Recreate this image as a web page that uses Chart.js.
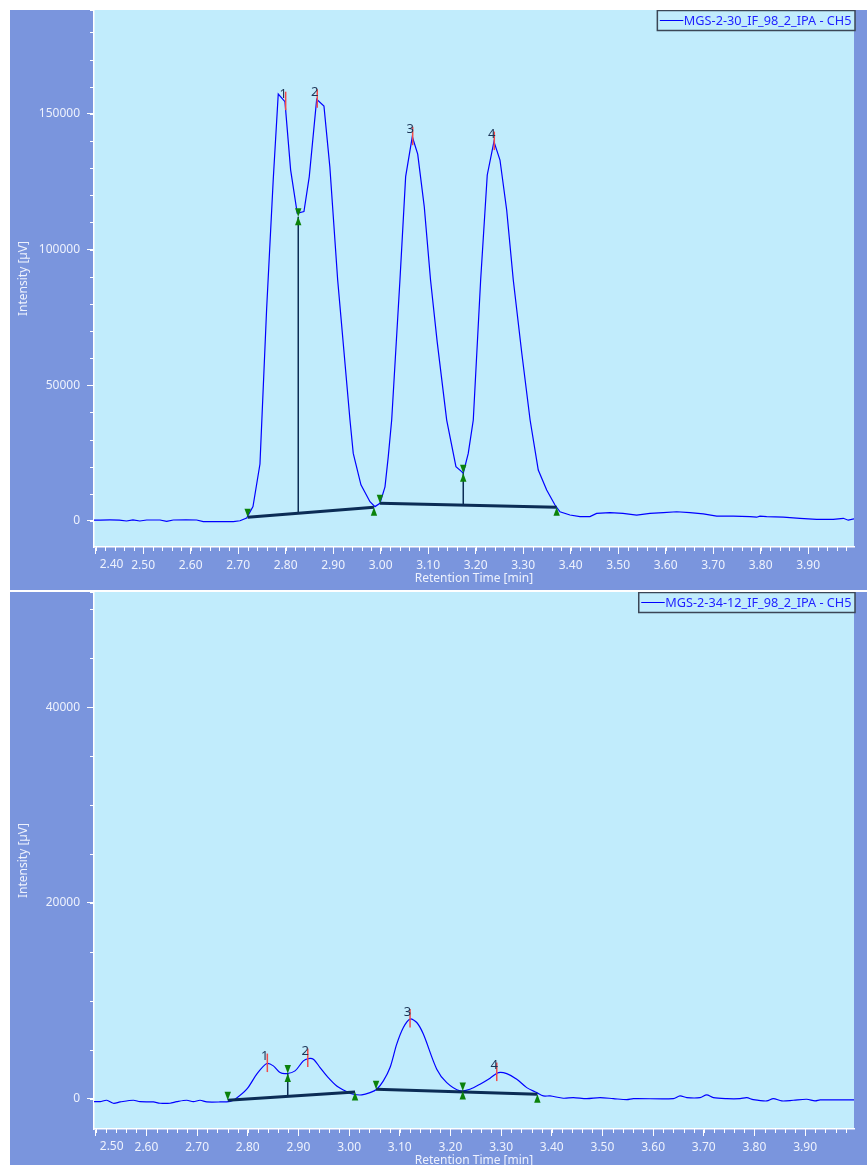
<!DOCTYPE html>
<html>
<head>
<meta charset="utf-8">
<script src="https://cdn.jsdelivr.net/npm/chart.js@4.4.1/dist/chart.umd.min.js"></script>
<style>
  html, body { margin: 0; padding: 0; background: #fff; overflow: hidden; }
  .panel { position: absolute; left: 10px; width: 857px; height: 580px; background: #7a95dd; }
  #panelTop { top: 10px; }
  #panelBottom { top: 592px; }
</style>
</head>
<body>
<div class="panel" id="panelTop"><canvas id="chartTop"></canvas></div>
<div class="panel" id="panelBottom"><canvas id="chartBottom"></canvas></div>
<script>
// ---- top run: MGS-2-30 ----
const topName = 'MGS-2-30_IF_98_2_IPA - CH5';
const topTimes = [2.3965, 2.41, 2.43, 2.45, 2.465, 2.4785, 2.493, 2.5074, 2.5354, 2.5495, 2.5634, 2.59,
  2.6126, 2.6265, 2.65, 2.6897, 2.7038, 2.7179, 2.7312, 2.7459, 2.7599, 2.7739, 2.7844, 2.7985,
  2.8105, 2.8244, 2.8385, 2.8497, 2.8653, 2.8806, 2.893, 2.9095, 2.9354, 2.9423, 2.9585, 2.9775,
  2.988, 2.9985, 3.0091, 3.016, 3.0232, 3.0406, 3.0526, 3.0666, 3.078, 3.0918, 3.105, 3.119,
  3.139, 3.1585, 3.1705, 3.1739, 3.1844, 3.195, 3.2105, 3.2244, 3.2385, 3.2512, 3.2653, 3.2792,
  3.297, 3.3146, 3.3318, 3.3495, 3.367, 3.3775, 3.3985, 3.4196, 3.4406, 3.4547, 3.4827, 3.5101,
  3.5389, 3.567, 3.595, 3.6232, 3.6512, 3.6792, 3.7074, 3.7423, 3.7775, 3.7915, 3.7985, 3.8126,
  3.8476, 3.8827, 3.9179, 3.9528, 3.974, 3.9844, 3.9965];
const topSignal = [300, 350, 380, 350, 0, 380, 0, 370, 370, -150, 370, 380,
  370, -200, -200, -200, 100, 1100, 5300, 21000, 78000, 126000, 157300, 154500,
  129300, 113400, 114000, 126900, 155400, 152900, 130500, 88800, 37200, 24900, 13300, 7100,
  5300, 6500, 12600, 23700, 37200, 88800, 126900, 141600, 135200, 115800, 88800, 66000,
  37200, 20000, 18200, 17600, 24900, 37200, 88800, 127500, 139800, 133000, 114600, 88800,
  62000, 37200, 18800, 11400, 5900, 3400, 2200, 1600, 1600, 2800, 3100, 2800,
  2200, 2800, 3100, 3400, 3100, 2600, 1800, 1800, 1600, 1400, 1800, 1600,
  1400, 1000, 600, 600, 1000, 300, 800];
const topXTicks = [2.40, 2.50, 2.60, 2.70, 2.80, 2.90, 3.00, 3.10, 3.20, 3.30, 3.40, 3.50, 3.60, 3.70, 3.80, 3.90];
const topYTicks = [0, 50000, 100000, 150000];
const topBaseStartT = [2.72, 2.9985];
const topBaseStartV = [1360, 6530];
const topBaseEndT = [2.9859, 3.3705];
const topBaseEndV = [5050, 5050];
const topDropT = [2.8265, 3.1739];
const topDropV = [112100, 17580];
const topDownT = [2.72, 2.8265, 2.9985, 3.1739];
const topDownV = [1360, 112100, 6530, 17580];
const topUpT = [2.8265, 2.9859, 3.1739, 3.3705];
const topUpV = [112100, 5050, 17580, 5050];
const topPeakT = [2.800, 2.8665, 3.0674, 3.2392];
const topPeakV = [154500, 155400, 141600, 139800];

// ---- bottom run: MGS-2-34-12 ----
const botName = 'MGS-2-34-12_IF_98_2_IPA - CH5';
const botTimes = [2.4966, 2.5085, 2.5217, 2.5347, 2.548, 2.5742, 2.5874, 2.6137, 2.6269, 2.6466, 2.6599,
  2.6796, 2.6926, 2.7058, 2.7191, 2.7453, 2.7651, 2.7749, 2.798, 2.8177, 2.8375, 2.8505, 2.8637,
  2.8769, 2.8933, 2.9097, 2.9196, 2.9294, 2.9427, 2.9559, 2.9756, 2.9954, 3.0084, 3.025, 3.0413,
  3.0546, 3.0676, 3.0808, 3.094, 3.1071, 3.1203, 3.1335, 3.1465, 3.173, 3.1927, 3.219, 3.2387,
  3.2584, 3.2782, 3.2946, 3.3111, 3.3309, 3.3506, 3.3703, 3.3834, 3.3966, 3.4228, 3.4426, 3.469,
  3.4952, 3.5215, 3.548, 3.561, 3.64, 3.6531, 3.6664, 3.6926, 3.7058, 3.7189, 3.7453, 3.7716,
  3.7848, 3.7978, 3.8243, 3.8373, 3.8539, 3.8768, 3.9032, 3.9196, 3.9295, 3.9557, 3.9965];
const botSignal = [-300, -307, -164, -471, -338, -164, -307, -338, -471, -471, -307,
  -164, -307, -164, -338, -338, -270, -61, 963, 2499, 3584, 3349, 2663,
  2560, 2837, 3861, 4096, 4035, 3175, 2325, 1300, 717, 451, 379, 614,
  963, 1813, 3175, 5571, 7271, 8131, 7783, 6595, 3011, 1638, 789, 963,
  1475, 2089, 2663, 2560, 1987, 1126, 614, 276, 276, 41, 102, 0,
  102, 0, -102, 0, 0, 276, 102, 102, 379, 102, 0, 0,
  102, -102, -236, 0, -236, -164, -61, -236, -133, -133, -133];
const botXTicks = [2.50, 2.60, 2.70, 2.80, 2.90, 3.00, 3.10, 3.20, 3.30, 3.40, 3.50, 3.60, 3.70, 3.80, 3.90];
const botYTicks = [0, 20000, 40000];
const botBaseStartT = [2.7605, 3.0532];
const botBaseStartV = [-164, 963];
const botBaseEndT = [3.0117, 3.3716];
const botBaseEndV = [680, 451];
const botDropT = [2.8789, 3.2243];
const botDropV = [2560, 789];
const botDownT = [2.7605, 2.8789, 3.0532, 3.2243];
const botDownV = [-164, 2560, 963, 789];
const botUpT = [2.8789, 3.0117, 3.2243, 3.3716];
const botUpV = [2560, 680, 789, 451];
const botPeakT = [2.8386, 2.9184, 3.1203, 3.2914];
const botPeakV = [3584, 4096, 8131, 2663];

const peakNames = ['1', '2', '3', '4'];

// colours
const PLOT_BG = '#c1ecfc';
const AXIS_TXT = '#eef2fd';
const TRACE = '#0000ff';
const BASE = '#0b2c55';
const MARK = '#0b820b';
const PEAK_RED = '#f24a4a';

Chart.defaults.font.family = "'Noto Sans', sans-serif";
Chart.defaults.font.size = 12;

function baselineAt(t, st, sv, et, ev) {
  for (let i = 0; i < st.length; i++) {
    if (t >= st[i] && t <= et[i]) {
      return sv[i] + (ev[i] - sv[i]) * (t - st[i]) / (et[i] - st[i]);
    }
  }
  return 0;
}

function chromPlugin(p) {
  return {
    id: 'chrom',
    beforeDraw(chart) {
      const { ctx, chartArea: a } = chart;
      ctx.save();
      ctx.fillStyle = PLOT_BG;
      ctx.fillRect(a.left, a.top, a.right - a.left, a.bottom - a.top);
      ctx.restore();
    },
    afterDraw(chart) {
      const { ctx, chartArea: a, scales: { x, y } } = chart;
      ctx.save();

      // minor ticks
      ctx.strokeStyle = '#fff';
      ctx.lineWidth = 1;
      ctx.beginPath();
      for (let i = Math.ceil(y.min / p.yMinor); i * p.yMinor <= y.max; i++) {
        const py = Math.round(y.getPixelForValue(i * p.yMinor)) + 0.5;
        ctx.moveTo(a.left - 4, py); ctx.lineTo(a.left, py);
      }
      ctx.moveTo(a.left - 4, a.top + 0.5); ctx.lineTo(a.left, a.top + 0.5);
      for (let i = Math.ceil(x.min / 0.02 - 1e-6); i * 0.02 <= x.max; i++) {
        const px = Math.round(x.getPixelForValue(i * 0.02)) + 0.5;
        ctx.moveTo(px, a.bottom); ctx.lineTo(px, a.bottom + 4);
      }
      ctx.stroke();

      // first x label sits right of its tick
      ctx.fillStyle = AXIS_TXT;
      ctx.font = "12px 'Noto Sans', sans-serif";
      ctx.textAlign = 'left';
      ctx.textBaseline = 'middle';
      ctx.fillText(p.xTicks[0].toFixed(2), x.getPixelForValue(p.xTicks[0]) + 4, a.bottom + 18);

      // clip the annotations to the plot
      ctx.beginPath();
      ctx.rect(a.left, a.top, a.right - a.left, a.bottom - a.top);
      ctx.clip();

      // peak markers (red tick + number)
      ctx.strokeStyle = PEAK_RED;
      ctx.lineWidth = 1.5;
      ctx.font = "13px 'Noto Sans', sans-serif";
      ctx.textAlign = 'center';
      p.peakT.forEach((t, i) => {
        const px = x.getPixelForValue(t);
        const py = y.getPixelForValue(p.peakV[i]);
        ctx.beginPath();
        ctx.moveTo(px, py - 10); ctx.lineTo(px, py + 8.5);
        ctx.stroke();
        ctx.fillStyle = '#1d3557';
        ctx.fillText(peakNames[i], px - 2.5, py - 7);
      });

      // green start/end triangles
      ctx.fillStyle = MARK;
      const tri = (t, v, dir) => {
        const px = x.getPixelForValue(t);
        const py = y.getPixelForValue(v);
        ctx.beginPath();
        ctx.moveTo(px, py);
        ctx.lineTo(px - 3.2, py + dir * 8.5);
        ctx.lineTo(px + 3.2, py + dir * 8.5);
        ctx.closePath();
        ctx.fill();
      };
      p.downT.forEach((t, i) => tri(t, p.downV[i], -1));
      p.upT.forEach((t, i) => tri(t, p.upV[i], 1));
      ctx.restore();

      // legend box
      ctx.save();
      ctx.font = "12.7px 'Noto Sans', sans-serif";
      const w = ctx.measureText(p.name).width;
      const right = a.right + 1;
      const left = right - w - 30;
      const top = a.top + 0.5;
      const h = 20;
      ctx.fillStyle = PLOT_BG;
      ctx.fillRect(left, top, right - left, h);
      ctx.strokeStyle = '#3b4656';
      ctx.lineWidth = 1.5;
      ctx.strokeRect(left, top, right - left, h);
      ctx.strokeStyle = TRACE;
      ctx.lineWidth = 1;
      ctx.beginPath();
      ctx.moveTo(left + 2.5, top + h / 2); ctx.lineTo(left + 26, top + h / 2);
      ctx.stroke();
      ctx.fillStyle = '#1f1fff';
      ctx.textAlign = 'left';
      ctx.textBaseline = 'middle';
      ctx.fillText(p.name, left + 26.5, top + h / 2 + 0.5);
      ctx.restore();
    }
  };
}

function buildChart(id, p) {
  const trace = p.times.map((t, i) => ({ x: t, y: p.signal[i] }));
  const base = [];
  p.bst.forEach((t, i) => {
    base.push({ x: t, y: p.bsv[i] }, { x: p.bet[i], y: p.bev[i] }, { x: p.bet[i], y: null });
  });
  const drops = [];
  p.dropT.forEach((t, i) => {
    drops.push({ x: t, y: baselineAt(t, p.bst, p.bsv, p.bet, p.bev) }, { x: t, y: p.dropV[i] }, { x: t, y: null });
  });

  return new Chart(document.getElementById(id), {
    type: 'line',
    data: {
      datasets: [
        { data: base, borderColor: BASE, borderWidth: 3, pointRadius: 0, spanGaps: false, tension: 0 },
        { data: drops, borderColor: BASE, borderWidth: 1.5, pointRadius: 0, spanGaps: false, tension: 0 },
        { label: p.name, data: trace, borderColor: TRACE, borderWidth: 1.2, pointRadius: 0, tension: p.tension }
      ]
    },
    options: {
      responsive: true,
      maintainAspectRatio: false,
      devicePixelRatio: 1,
      animation: false,
      events: [],
      layout: { padding: { left: 0, right: 13, top: 0, bottom: 0 } },
      plugins: { legend: { display: false }, tooltip: { enabled: false } },
      scales: {
        x: {
          type: 'linear',
          min: p.xMin,
          max: p.xMax,
          afterBuildTicks: s => { s.ticks = p.xTicks.map(v => ({ value: v })); },
          afterFit: s => { s.height = 43; s.paddingLeft = 0; s.paddingRight = 0; },
          ticks: {
            autoSkip: false, maxRotation: 0, color: AXIS_TXT, padding: 4,
            callback: (v, i) => (i === 0 ? '' : Number(v).toFixed(2))
          },
          grid: { drawOnChartArea: false, drawTicks: true, tickLength: 7, color: '#fff' },
          border: { color: '#fff', width: 1.5 },
          title: { display: true, text: 'Retention Time [min]', color: AXIS_TXT, padding: { top: 0, bottom: 4 } }
        },
        y: {
          type: 'linear',
          min: p.yMin,
          max: p.yMax,
          afterBuildTicks: s => { s.ticks = p.yTicks.map(v => ({ value: v })); },
          afterFit: s => { s.width = 84; s.paddingTop = 0; s.paddingBottom = 0; },
          ticks: { color: AXIS_TXT, padding: 7, callback: v => String(v) },
          grid: { drawOnChartArea: false, drawTicks: true, tickLength: 7, color: '#fff' },
          border: { color: '#fff', width: 1.5 },
          title: { display: true, text: 'Intensity [µV]', color: AXIS_TXT, padding: { top: 6, bottom: 0 } }
        }
      }
    },
    plugins: [chromPlugin(p)]
  });
}

buildChart('chartTop', {
  name: topName, times: topTimes, signal: topSignal, tension: 0,
  xMin: 2.3965, xMax: 3.9965, yMin: -9580, yMax: 188283, yMinor: 10000,
  xTicks: topXTicks, yTicks: topYTicks,
  bst: topBaseStartT, bsv: topBaseStartV, bet: topBaseEndT, bev: topBaseEndV,
  dropT: topDropT, dropV: topDropV,
  downT: topDownT, downV: topDownV, upT: topUpT, upV: topUpV,
  peakT: topPeakT, peakV: topPeakV
});

buildChart('chartBottom', {
  name: botName, times: botTimes, signal: botSignal, tension: 0.3,
  xMin: 2.4965, xMax: 3.9965, yMin: -3102, yMax: 51774, yMinor: 5000,
  xTicks: botXTicks, yTicks: botYTicks,
  bst: botBaseStartT, bsv: botBaseStartV, bet: botBaseEndT, bev: botBaseEndV,
  dropT: botDropT, dropV: botDropV,
  downT: botDownT, downV: botDownV, upT: botUpT, upV: botUpV,
  peakT: botPeakT, peakV: botPeakV
});
</script>
</body>
</html>
